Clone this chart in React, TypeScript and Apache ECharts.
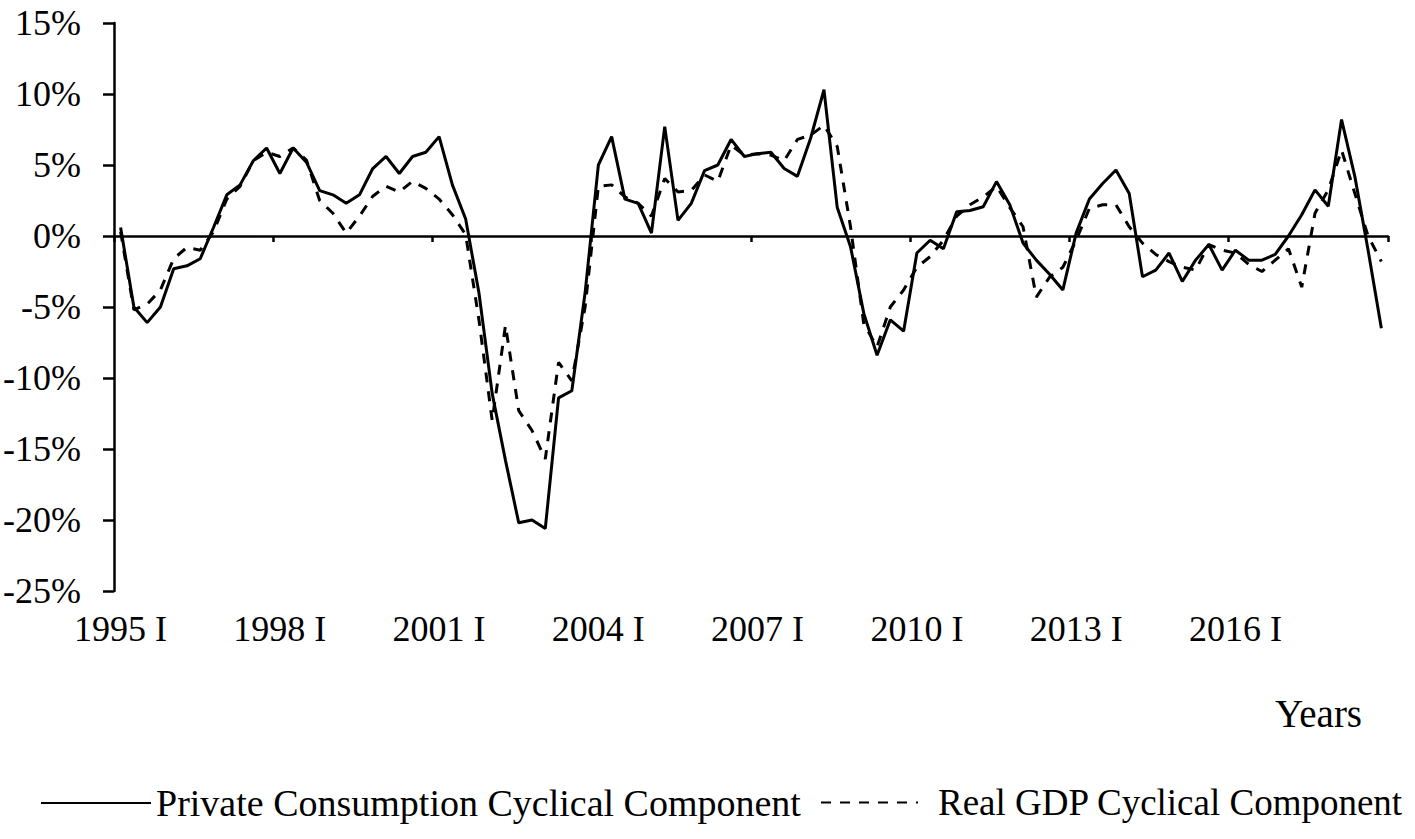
import React, { useEffect, useRef } from "react";
import * as echarts from "echarts";

const years = [
  1995, 1996, 1997, 1998, 1999, 2000, 2001, 2002, 2003, 2004, 2005, 2006,
  2007, 2008, 2009, 2010, 2011, 2012, 2013, 2014, 2015, 2016, 2017, 2018,
];
const quarterNames = ["I", "II", "III", "IV"];
const categories = years.flatMap((y) => quarterNames.map((q) => `${y} ${q}`));

const seriesNames = ["Private Consumption Cyclical Component", "Real GDP Cyclical Component"];

const privateConsumption = [
  0.6, -5.0, -6.1, -5.0, -2.3, -2.1, -1.6, 0.6, 2.9, 3.6, 5.3, 6.2,
  4.4, 6.2, 5.2, 3.2, 2.9, 2.3, 2.9, 4.75, 5.6, 4.4, 5.6, 5.9,
  7.0, 3.6, 1.2, -4.0, -11.1, -15.8, -20.2, -20.0, -20.6, -11.4, -10.9, -4.0,
  5.0, 7.0, 2.6, 2.3, 0.2, 7.7, 1.1, 2.3, 4.6, 5.0, 6.8, 5.6,
  5.8, 5.9, 4.75, 4.2, 6.9, 10.3, 2.0, -0.75, -5.45, -8.4, -5.9, -6.7,
  -1.2, -0.3, -0.9, 1.7, 1.8, 2.06, 3.83, 2.2, -0.5, -1.7, -2.7, -3.8,
  0.2, 2.6, 3.7, 4.65, 3.0, -2.87, -2.4, -1.2, -3.2, -1.7, -0.6, -2.4,
  -1.0, -1.7, -1.7, -1.3, 0.0, 1.5, 3.25, 2.1, 8.2, 4.2, -1.0, -6.5,
];

const realGDP = [
  0.3, -5.2, -4.8, -3.8, -1.6, -0.8, -1.0, 0.3, 2.6, 3.5, 5.3, 5.9,
  5.6, 6.2, 5.35, 2.5, 1.6, 0.2, 1.4, 2.8, 3.5, 3.1, 3.85, 3.35,
  2.6, 1.5, 0.1, -5.9, -13.0, -6.3, -12.3, -13.7, -15.7, -8.9, -10.2, -5.0,
  3.5, 3.6, 2.75, 2.3, 1.4, 4.05, 3.1, 3.2, 4.3, 3.85, 6.4, 5.7,
  5.8, 5.7, 5.3, 6.8, 7.1, 7.8, 6.3, 0.65, -6.2, -7.8, -5.0, -3.8,
  -2.2, -1.45, -0.3, 1.4, 2.2, 2.75, 3.5, 2.0, 0.65, -4.3, -2.9, -2.2,
  -0.3, 1.95, 2.2, 2.2, 0.65, -0.5, -1.3, -1.8, -2.2, -2.4, -0.6, -1.0,
  -1.2, -2.0, -2.5, -1.7, -0.9, -3.6, 1.6, 3.25, 6.05, 3.0, 0.0, -1.8,
];

const yMin = -25;
const yMax = 15;
const yStep = 5;
const FONT = "'Liberation Serif', 'Times New Roman', serif";

export default function App() {
  const ref = useRef<HTMLDivElement>(null);
  useEffect(() => {
    document.body.style.margin = "0";
    const chart = echarts.init(ref.current!, null, { renderer: "svg" });
    const legendBase = {
      top: 784,
      itemHeight: 14,
      padding: 0,
      itemStyle: { opacity: 0 },
      selectedMode: false,
    };
    chart.setOption({
      animation: false,
      backgroundColor: "#fff",
      grid: { left: 113, right: 27, top: 23, bottom: 248, containLabel: false },
      xAxis: [
        {
          type: "category",
          data: categories,
          boundaryGap: true,
          axisLine: { onZero: true, lineStyle: { color: "#000", width: 2.5 } },
          axisTick: { show: true, interval: 11, length: 6, lineStyle: { color: "#000", width: 2.5 } },
          axisLabel: { show: false },
          splitLine: { show: false },
        },
        {
          type: "category",
          data: categories,
          boundaryGap: true,
          position: "bottom",
          axisLine: { show: false, onZero: false },
          axisTick: { show: false },
          axisLabel: {
            interval: 11,
            fontFamily: FONT,
            fontSize: 36,
            color: "#000",
            margin: 20,
          },
          splitLine: { show: false },
        },
      ],
      yAxis: {
        type: "value",
        min: yMin,
        max: yMax,
        interval: yStep,
        axisLine: { show: true, lineStyle: { color: "#000", width: 2.5 } },
        axisTick: { show: true, length: 11, lineStyle: { color: "#000", width: 2.5 } },
        axisLabel: {
          formatter: "{value}%",
          fontFamily: FONT,
          fontSize: 36,
          color: "#000",
          margin: 33,
        },
        splitLine: { show: false },
      },
      legend: [
        {
          ...legendBase,
          left: 40,
          itemWidth: 110,
          data: [seriesNames[0]],
          textStyle: { fontFamily: FONT, fontSize: 38, color: "#000" },
        },
        {
          ...legendBase,
          left: 820,
          itemWidth: 97,
          data: [seriesNames[1]],
          textStyle: { fontFamily: FONT, fontSize: 37, color: "#000", padding: [0, 0, 0, 15] },
        },
      ],
      graphic: [
        {
          type: "text",
          left: 1275,
          top: 694,
          style: { text: "Years", font: `39px ${FONT}`, fill: "#000" },
        },
      ],
      series: [
        {
          name: seriesNames[0],
          type: "line",
          xAxisIndex: 0,
          data: privateConsumption,
          symbol: "none",
          lineStyle: { color: "#000", width: 3 },
          itemStyle: { color: "#000" },
        },
        {
          name: seriesNames[1],
          type: "line",
          xAxisIndex: 0,
          data: realGDP,
          symbol: "none",
          lineStyle: { color: "#000", width: 3, type: [10, 9] },
          itemStyle: { color: "#000" },
        },
      ],
    });
    return () => chart.dispose();
  }, []);
  return <div ref={ref} style={{ width: 1415, height: 839 }} />;
}
